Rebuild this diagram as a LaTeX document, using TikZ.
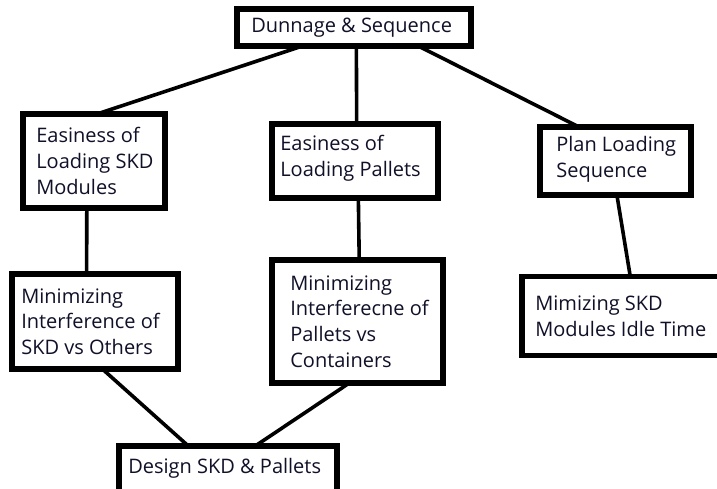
\documentclass[tikz,border=0pt]{standalone}
\usepackage{fontspec}
\setmainfont{Open Sans}
\usetikzlibrary{calc}
\definecolor{ink}{HTML}{101028}
\tikzset{
  box/.style={draw=black, line width=3.8pt, fill=white, rectangle, inner sep=0pt},
  txt/.style={inner sep=0pt, align=left, text=ink,
    font=\fontsize{20pt}{25.7pt}\selectfont},
  link/.style={draw=black, line width=3.6pt}
}
\begin{document}
\begin{tikzpicture}[x=1pt,y=-1pt]
  \useasboundingbox (0,0) rectangle (717,489);
  \clip (0,0) rectangle (717,489);
  \fill[white] (0,0) rectangle (717,489);

  % boxes: centre, width, height
  \node[box, minimum width=232pt, minimum height=35pt] (top) at (354,27.5) {};
  \node[box, minimum width=140pt, minimum height=92pt] (skd) at (94,161) {};
  \node[box, minimum width=164pt, minimum height=72pt] (pal) at (355,161) {};
  \node[box, minimum width=149pt, minimum height=66pt] (plan) at (615.5,161) {};
  \node[box, minimum width=164pt, minimum height=93pt] (intskd) at (95,321.5) {};
  \node[box, minimum width=169pt, minimum height=121pt] (intpal) at (357.5,321.5) {};
  \node[box, minimum width=200pt, minimum height=77pt] (idle) at (623,316) {};
  \node[box, minimum width=216pt, minimum height=80pt] (design) at (228,487) {};

  % connectors
  \path[link] ($(skd.north west)!0.54!(skd.north east)$) -- ($(top.south west)!0.27!(top.south east)$);
  \path[link] ($(pal.north west)!0.51!(pal.north east)$) -- ($(top.south west)!0.51!(top.south east)$);
  \path[link] ($(plan.north west)!0.25!(plan.north east)$) -- ($(top.south west)!0.78!(top.south east)$);
  \path[link] ($(skd.south west)!0.45!(skd.south east)$) -- ($(intskd.north west)!0.45!(intskd.north east)$);
  \path[link] ($(pal.south west)!0.52!(pal.south east)$) -- ($(intpal.north west)!0.51!(intpal.north east)$);
  \path[link] ($(plan.south west)!0.51!(plan.south east)$) -- ($(idle.north west)!0.535!(idle.north east)$);
  \path[link] ($(intskd.south west)!0.55!(intskd.south east)$) -- ($(design.north west)!0.315!(design.north east)$);
  \path[link] ($(intpal.south west)!0.445!(intpal.south east)$) -- ($(design.north west)!0.63!(design.north east)$);

  % redraw boxes over the connector ends
  \foreach \n in {top,skd,pal,plan,intskd,intpal,idle,design}
    \draw[line width=3.8pt] (\n.north west) rectangle (\n.south east);

  % labels
  \node[txt, anchor=west] (ttop) at ($(top.west)+(15,0)$) {Dunnage \& Sequence};
  \node[txt, anchor=west] (tskd) at ($(skd.west)+(14,0)$) {Easiness of\\Loading SKD\\Modules};
  \node[txt, anchor=west] (tpal) at ($(pal.west)+(9,-3)$) {Easiness of\\Loading Pallets};
  \node[txt, anchor=west] (tplan) at ($(plan.west)+(17,-2)$) {Plan Loading\\Sequence};
  \node[txt, anchor=west] (tintskd) at ($(intskd.west)+(10,0)$) {Minimizing\\Interference of\\SKD vs Others};
  \node[txt, anchor=west] (tintpal) at ($(intpal.west)+(19,0)$) {Minimizing\\Interferecne of\\Pallets vs\\Containers};
  \node[txt, anchor=west] (tidle) at ($(idle.west)+(14,0)$) {Mimizing SKD\\Modules Idle Time};
  \node[txt, anchor=north west] (tdesign) at ($(design.north west)+(10,13)$) {Design SKD \& Pallets};
\end{tikzpicture}
\end{document}
